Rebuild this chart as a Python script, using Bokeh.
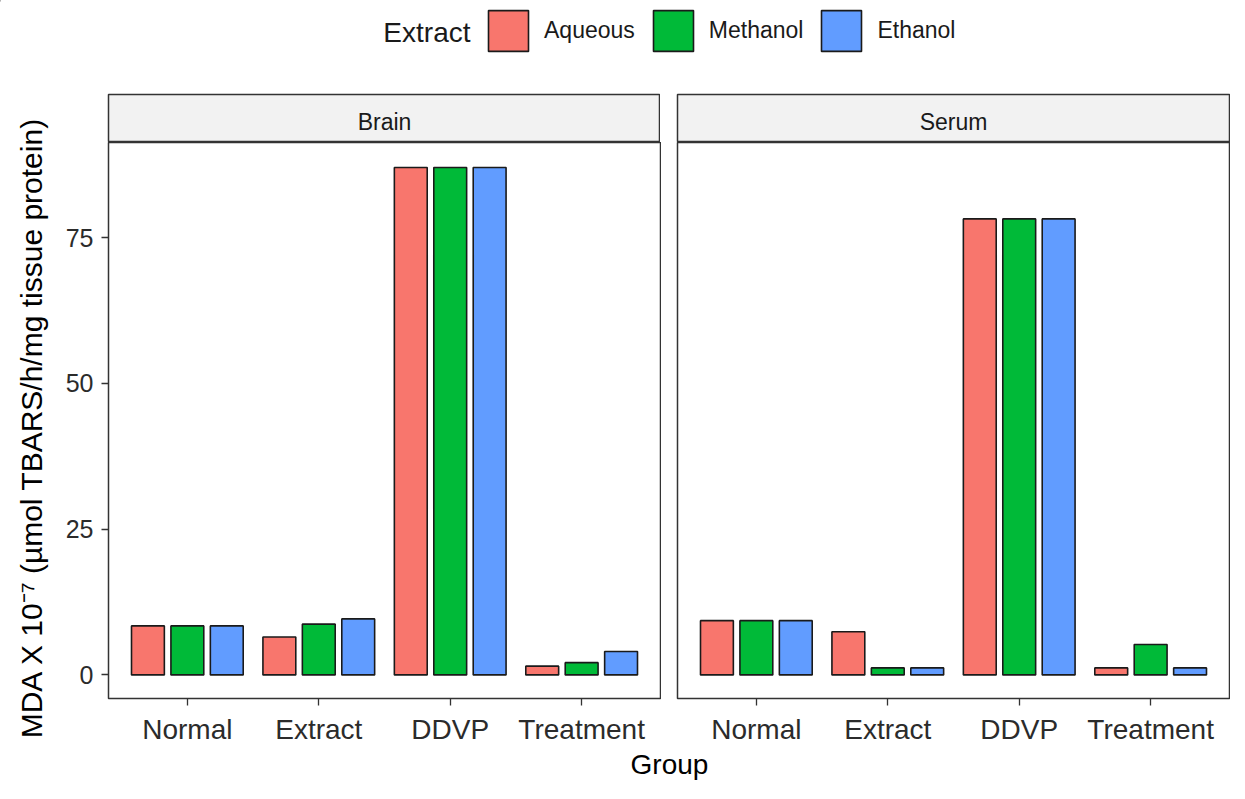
import math
from bokeh.plotting import figure
from bokeh.models import Range1d, FixedTicker, ColumnDataSource, Legend, LegendItem
from bokeh.layouts import row, column
from bokeh.transform import dodge
from bokeh.core.properties import value
from bokeh.embed import file_html
from bokeh.resources import INLINE

# ---------------- data ----------------
groups = ["Normal", "Extract", "DDVP", "Treatment"]
extracts = ["Aqueous", "Methanol", "Ethanol"]
colors = ["#F8766D", "#00BA38", "#619CFF"]
tissues = ["Brain", "Serum"]

brain_aqueous = [8.4, 6.5, 87.0, 1.5]
brain_methanol = [8.4, 8.7, 87.0, 2.1]
brain_ethanol = [8.4, 9.6, 87.0, 4.0]

serum_aqueous = [9.3, 7.4, 78.2, 1.2]
serum_methanol = [9.3, 1.2, 78.2, 5.2]
serum_ethanol = [9.3, 1.2, 78.2, 1.2]

y_ticks = [0, 25, 50, 75]
y_label = "MDA X 10\u207b\u2077 (\u00b5mol TBARS/h/mg tissue protein)"
x_label = "Group"
legend_title = "Extract"

FONT = "Liberation Sans"
FRAME_H = 556
STRIP_H = 48
LEG_H = 93
AX_H = 50
GRP_H = 35
BAR_LW = 1.6


def make_panel(series, show_y, border_left, fw):
    data = dict(x=list(range(1, len(groups) + 1)))
    for e, s in zip(extracts, series):
        data[e] = s
    src = ColumnDataSource(data)
    p = figure(frame_width=fw, frame_height=FRAME_H,
               min_border_left=border_left, min_border_right=1,
               min_border_top=0, min_border_bottom=AX_H,
               x_range=Range1d(0.4, 4.6), y_range=Range1d(-4.05, 91.3),
               output_backend="svg", toolbar_location=None)
    for k, (e, c) in enumerate(zip(extracts, colors)):
        p.vbar(x=dodge("x", (k - 1) * 0.3), top=e, bottom=0, width=0.25,
               source=src, fill_color=c, line_color="#1A1A1A", line_width=BAR_LW)
    p.grid.visible = False
    p.background_fill_color = "white"
    p.outline_line_color = "#333333"
    p.outline_line_width = 1.5
    p.xaxis.ticker = FixedTicker(ticks=list(range(1, len(groups) + 1)))
    p.xaxis.major_label_overrides = {i + 1: g for i, g in enumerate(groups)}
    p.yaxis.ticker = FixedTicker(ticks=y_ticks)
    for ax in p.axis:
        ax.axis_line_color = None
        ax.minor_tick_line_color = None
        ax.major_tick_in = 0
        ax.major_tick_out = 7
        ax.major_tick_line_color = "#333333"
        ax.major_tick_line_width = 1.3
        ax.major_label_text_font = FONT
        ax.major_label_text_color = "#2B2B2B"
        ax.major_label_standoff = 8
    p.xaxis.major_label_text_font_size = "28px"
    p.yaxis.major_label_text_font_size = "25px"
    if not show_y:
        p.yaxis.visible = False
    return p


def make_strip(label, border_left, fw):
    s = figure(frame_width=fw, frame_height=STRIP_H,
               min_border_left=border_left, min_border_right=1,
               min_border_top=1, min_border_bottom=0,
               x_range=Range1d(0, 1), y_range=Range1d(0, 1),
               output_backend="svg", toolbar_location=None)
    s.axis.visible = False
    s.grid.visible = False
    s.background_fill_color = "#F2F2F2"
    s.outline_line_color = "#333333"
    s.outline_line_width = 1.5
    s.text(x=[0.5], y=[0.42], text=[label], text_align="center",
           text_baseline="middle", text_font=value(FONT),
           text_font_size="23px", text_color="#1A1A1A")
    return s


series_brain = [brain_aqueous, brain_methanol, brain_ethanol]
series_serum = [serum_aqueous, serum_methanol, serum_ethanol]

brain = make_panel(series_brain, True, 45, 552)
serum = make_panel(series_serum, False, 16, 552)
brain_strip = make_strip(tissues[0], 45, 552)
serum_strip = make_strip(tissues[1], 16, 552)

# y-axis title
YL_H = STRIP_H + 1 + FRAME_H + AX_H
ylab = figure(width=62, height=YL_H, x_range=Range1d(0, 62), y_range=Range1d(YL_H, 0),
              min_border=0, output_backend="svg", toolbar_location=None)
ylab.axis.visible = False
ylab.grid.visible = False
ylab.outline_line_color = None
ylab.text(x=[31], y=[334], text=[y_label], angle=math.pi / 2,
          text_align="center", text_baseline="middle",
          text_font=value(FONT), text_font_size="30px", text_color="black")

# legend
lg = figure(width=1229, height=LEG_H, x_range=Range1d(0, 1229), y_range=Range1d(LEG_H, 0),
            min_border=0, output_backend="svg", toolbar_location=None)
lg.axis.visible = False
lg.grid.visible = False
lg.outline_line_color = None
items = []
for e, c in zip(extracts, colors):
    r = lg.vbar(x=[-50], top=[0], bottom=[0], width=1, fill_color=c,
                line_color="#1A1A1A", line_width=BAR_LW)
    items.append(LegendItem(label=e, renderers=[r]))
legend = Legend(items=items, orientation="horizontal", location=(483, 37),
                glyph_width=50, glyph_height=51, label_standoff=11, spacing=13,
                padding=0, margin=0, border_line_color=None, background_fill_alpha=0,
                label_text_font=FONT, label_text_font_size="23px",
                label_text_color="#1A1A1A", label_height=51)
lg.add_layout(legend)
lg.text(x=[470], y=[32], text=[legend_title], text_align="right", text_baseline="middle",
        text_font=value(FONT), text_font_size="28px", text_color="#1A1A1A")

# x-axis title
gx = figure(width=1229, height=GRP_H, x_range=Range1d(0, 1229), y_range=Range1d(GRP_H, 0),
            min_border=0, output_backend="svg", toolbar_location=None)
gx.axis.visible = False
gx.grid.visible = False
gx.outline_line_color = None
gx.text(x=[669], y=[16], text=[x_label], text_align="center", text_baseline="middle",
        text_font=value(FONT), text_font_size="28px", text_color="black")

layout = column(lg,
                row(ylab, column(brain_strip, brain), column(serum_strip, serum)),
                gx)

open("out.html", "w").write(file_html(layout, INLINE))
